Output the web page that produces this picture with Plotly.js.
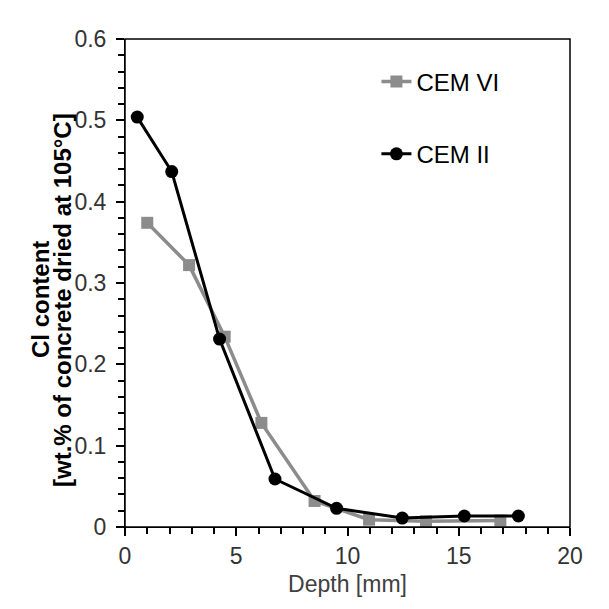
<!DOCTYPE html>
<html>
<head>
<meta charset="utf-8">
<script src="https://cdn.plot.ly/plotly-3.0.1.min.js"></script>
<style>html,body{margin:0;padding:0;background:#fff;}#chart{width:609px;height:609px;}</style>
</head>
<body>
<div id="chart"></div>
<script>
// CEM VI (grey squares)
const cemVIDepth = [1.0, 2.88, 4.48, 6.13, 8.52, 10.97, 13.53, 16.87];
const cemVICl    = [0.374, 0.322, 0.234, 0.128, 0.032, 0.009, 0.007, 0.008];
// CEM II (black circles)
const cemIIDepth = [0.55, 2.1, 4.25, 6.74, 9.51, 12.46, 15.25, 17.68];
const cemIICl    = [0.504, 0.437, 0.231, 0.059, 0.023, 0.011, 0.0135, 0.0135];

const seriesNames = ["CEM VI", "CEM II"];
const xTitle = "Depth [mm]";
const yTitleLine1 = "Cl content";
const yTitleLine2 = "[wt.% of concrete dried at 105°C]";

const FONT = "Liberation Sans, Arial, sans-serif";

const traces = [
  {
    x: cemVIDepth, y: cemVICl, name: seriesNames[0], type: "scatter", mode: "lines+markers",
    legendgroup: "a",
    line: {color: "#8c8c8c", width: 3.5},
    marker: {symbol: "square", size: 12, color: "#8c8c8c"}
  },
  {
    x: cemIIDepth, y: cemIICl, name: seriesNames[1], type: "scatter", mode: "lines+markers",
    legendgroup: "b",
    line: {color: "#000000", width: 3},
    marker: {symbol: "circle", size: 13, color: "#000000"}
  }
];

const layout = {
  width: 609, height: 609,
  margin: {l: 125, r: 39, t: 39, b: 82},
  paper_bgcolor: "#ffffff", plot_bgcolor: "#ffffff",
  font: {family: FONT, color: "#333333", size: 22},
  showlegend: true,
  legend: {
    x: 0.565, y: 0.958, xanchor: "left", yanchor: "top",
    font: {family: FONT, size: 24, color: "#000"},
    traceorder: "grouped", tracegroupgap: 38,
    bgcolor: "rgba(0,0,0,0)"
  },
  xaxis: {
    range: [0, 20], dtick: 5,
    showgrid: true, gridcolor: "rgba(0,0,0,0)", zeroline: false,
    showline: true, linecolor: "#000000",
    showticklabels: true,
    ticks: "outside", ticklen: 8, tickwidth: 2, tickcolor: "#000000",
    minor: {dtick: 1, ticks: "outside", ticklen: 6, tickwidth: 2, tickcolor: "#000000"},
    tickfont: {family: FONT, size: 23, color: "#333333"},
    title: {text: xTitle, font: {family: FONT, size: 23, color: "#404040"}, standoff: 8}
  },
  yaxis: {
    range: [0, 0.6], dtick: 0.1,
    showgrid: true, gridcolor: "rgba(0,0,0,0)", zeroline: false,
    showline: true, linecolor: "#000000",
    showticklabels: true,
    ticks: "outside", ticklen: 8, tickwidth: 2, tickcolor: "#000000",
    minor: {dtick: 0.02, ticks: "outside", ticklen: 6, tickwidth: 2, tickcolor: "#000000"},
    tickfont: {family: FONT, size: 23, color: "#333333"},
    ticklabelstandoff: 5,
    tickformat: "~g"
  },
  shapes: [
    {type: "rect", xref: "paper", yref: "paper", x0: 0, x1: 1, y0: 0, y1: 1,
     line: {color: "#000", width: 1.5}, fillcolor: "rgba(0,0,0,0)", layer: "above"}
  ],
  annotations: [
    {text: "<b>" + yTitleLine1 + "</b>", xref: "paper", yref: "paper",
     x: (40 - 125) / 445, y: (527 - 300) / 488, xanchor: "center", yanchor: "middle",
     textangle: -90, showarrow: false, font: {family: FONT, size: 24, color: "#000"}},
    {text: "<b>" + yTitleLine2 + "</b>", xref: "paper", yref: "paper",
     x: (62 - 125) / 445, y: (527 - 300) / 488, xanchor: "center", yanchor: "middle",
     textangle: -90, showarrow: false, font: {family: FONT, size: 24, color: "#000"}}
  ]
};

Plotly.newPlot("chart", traces, layout, {displayModeBar: false});
</script>
</body>
</html>
